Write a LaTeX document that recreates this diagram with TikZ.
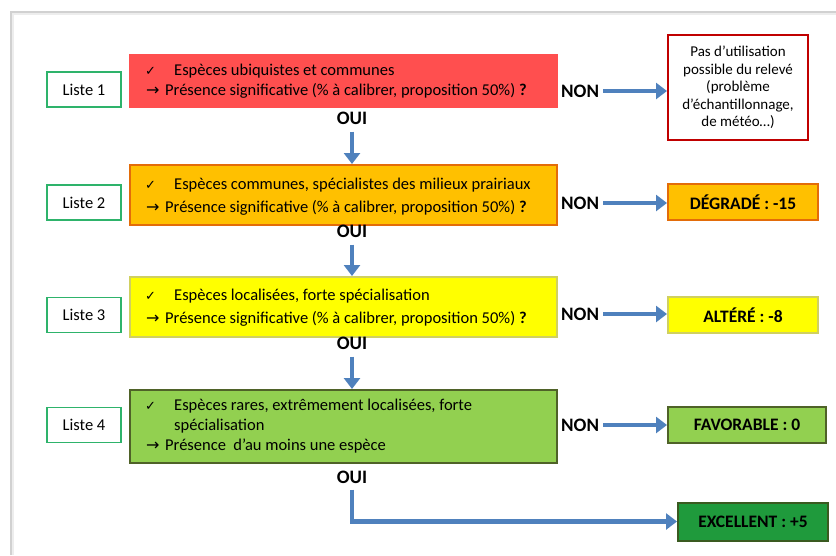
\documentclass[tikz,border=0pt]{standalone}
\usepackage{fontspec}
\setmainfont{Carlito}
\newfontfamily\djv{DejaVu Sans}
\usetikzlibrary{arrows.meta}
\definecolor{arrblue}{HTML}{4F81BD}
\definecolor{listgreen}{HTML}{2EB36B}
\definecolor{redfill}{HTML}{FF4F4F}
\definecolor{orfill}{HTML}{FFC000}
\definecolor{ordraw}{HTML}{E36C09}
\definecolor{yefill}{HTML}{FFFF00}
\definecolor{yedraw}{HTML}{D0D060}
\definecolor{grfill}{HTML}{92D050}
\definecolor{grdraw}{HTML}{4F6228}
\definecolor{exfill}{HTML}{1F9A3C}
\definecolor{exdraw}{HTML}{3A5A20}
\definecolor{darkred}{HTML}{C00000}
\newcommand{\ck}{{\djv\fontsize{13}{12}\selectfont ✓}}
\newcommand{\ar}{{\djv\fontsize{16}{12}\selectfont →}}
\newcommand{\lineA}[1]{\hspace{13pt}\makebox[29pt][l]{\ck}#1}
\newcommand{\lineB}[1]{\hspace{14pt}\makebox[19pt][l]{\ar}#1}
\tikzset{
  liste/.style={draw=listgreen, line width=1.3pt, fill=white, minimum width=74pt, minimum height=35pt, inner sep=0pt, font=\fontsize{16.5}{18}\selectfont},
  bigbox/.style={line width=2pt, minimum width=427pt, inner sep=0pt},
  btext/.style={anchor=west, inner sep=0pt, align=left, font=\fontsize{16.5}{20}\selectfont},
  resbox/.style={line width=2pt, minimum height=36pt, inner sep=0pt, font=\bfseries\fontsize{17.5}{18}\selectfont},
  lbl/.style={font=\bfseries\fontsize{19}{20}\selectfont, inner sep=0pt},
  barrow/.style={draw=arrblue, line width=4.5pt, -{Triangle[length=11pt,width=16pt]}},
}
\begin{document}
\begin{tikzpicture}[x=1pt,y=-1pt]
\useasboundingbox (0,0) rectangle (836,555);
\fill[white] (0,0) rectangle (836,555);
% page edge
\draw[black!18, line width=2pt] (11,555) -- (11,12) -- (836,12);
\draw[black!7, line width=2pt] (13,555) -- (13,14) -- (836,14);

% big boxes
\node[bigbox, fill=redfill, draw=redfill, minimum height=52pt] (b1) at (343.5,81) {};
\node[bigbox, fill=orfill, draw=ordraw, minimum height=60pt] (b2) at (343.5,195) {};
\node[bigbox, fill=yefill, draw=yedraw, minimum height=60pt] (b3) at (343.5,307) {};
\node[bigbox, fill=grfill, draw=grdraw, minimum height=73pt] (b4) at (343.5,426.5) {};

\node[btext] (t1) at (132,81)
 {\lineA{Espèces ubiquistes et communes}\\\lineB{Présence significative (\% à calibrer, proposition 50\%) \textbf{?}}};
\node[btext, font=\fontsize{16.5}{23}\selectfont] (t2) at (132,196.5)
 {\lineA{Espèces communes, spécialistes des milieux prairiaux}\\\lineB{Présence significative (\% à calibrer, proposition 50\%) \textbf{?}}};
\node[btext, font=\fontsize{16.5}{23}\selectfont] (t3) at (132,308)
 {\lineA{Espèces localisées, forte spécialisation}\\\lineB{Présence significative (\% à calibrer, proposition 50\%) \textbf{?}}};
\node[btext] (t4) at (132,426)
 {\lineA{Espèces rares, extrêmement localisées, forte}\\\hspace{42pt}spécialisation\\\lineB{Présence\ \ d'au moins une espèce}};

% liste boxes
\node[liste] (l1) at (84,89.5) {Liste 1};
\node[liste] (l2) at (84,202.5) {Liste 2};
\node[liste] (l3) at (84,315) {Liste 3};
\node[liste] (l4) at (84,425) {Liste 4};

% result boxes
\node[draw=darkred, line width=2pt, fill=white, minimum width=140pt, minimum height=105pt, inner sep=0pt, align=center, font=\fontsize{15}{17.5}\selectfont] (r1) at (738,87.5)
 {Pas d'utilisation\\possible du relevé\\(problème\\d'échantillonnage,\\de météo…)};
\node[resbox, fill=orfill, draw=ordraw, minimum width=150pt] (r2) at (743,202) {DÉGRADÉ : -15};
\node[resbox, fill=yefill, draw=yedraw, minimum width=150pt] (r3) at (743,315) {ALTÉRÉ : -8};
\node[resbox, fill=grfill, draw=grdraw, minimum width=158pt] (r4) at (747,425) {FAVORABLE : 0};
\node[resbox, fill=exfill, draw=exdraw, minimum width=150pt, minimum height=38pt] (r5) at (753,521.5) {EXCELLENT : +5};

% NON labels
\node[lbl, anchor=west] (n1) at (561,91) {NON};
\node[lbl, anchor=west] (n2) at (561,203) {NON};
\node[lbl, anchor=west] (n3) at (561,314) {NON};
\node[lbl, anchor=west] (n4) at (561,425) {NON};

% OUI labels
\node[lbl] (o1) at (352,118) {OUI};
\node[lbl] (o2) at (352,231) {OUI};
\node[lbl] (o3) at (352,343) {OUI};
\node[lbl] (o4) at (352,477) {OUI};

% arrows
\draw[barrow] (n1.east) ++(4pt,0) coordinate (s1) -- (r1.west |- s1);
\draw[barrow] (n2.east) ++(4pt,0) coordinate (s2) -- (r2.west |- s2);
\draw[barrow] (n3.east) ++(4pt,0) coordinate (s3) -- (r3.west |- s3);
\draw[barrow] (n4.east) ++(4pt,0) coordinate (s4) -- (r4.west |- s4);

\draw[barrow] (o1.south) ++(0,-7pt) coordinate (d1) -- (d1 |- b2.north);
\draw[barrow] (o2.south) ++(0,-7pt) coordinate (d2) -- (d2 |- b3.north);
\draw[barrow] (o3.south) ++(0,-7pt) coordinate (d3) -- (d3 |- b4.north);
\draw[barrow] (o4.south) ++(0,-6pt) coordinate (d4) -- (d4 |- r5.west) -- (r5.west);
\end{tikzpicture}
\end{document}
